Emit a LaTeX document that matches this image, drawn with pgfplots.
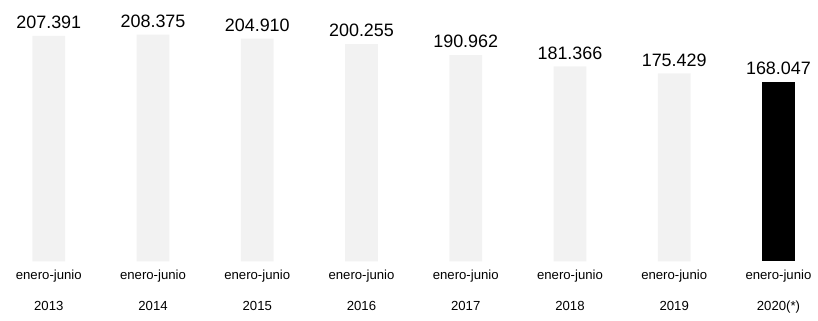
\documentclass[border=0pt]{standalone}
\usepackage{pgfplots}
\pgfplotsset{compat=1.18}
\usepackage{fontspec}
\setmainfont{Liberation Sans}
\begin{document}
\begin{tikzpicture}
\begin{axis}[
  scale only axis, width=409pt, height=131pt,
  xmin=-0.468, xmax=7.354, ymin=15, ymax=237.8,
  axis line style={draw=none},
  ytick=\empty,
  xtick={0,1,2,3,4,5,6,7},
  xticklabels={enero-junio\\2013,enero-junio\\2014,enero-junio\\2015,enero-junio\\2016,enero-junio\\2017,enero-junio\\2018,enero-junio\\2019,enero-junio\\2020(*)},
  xticklabel style={align=center, font=\fontsize{6.6}{15.5}\selectfont, yshift=-1pt},
  major tick length=0pt,
  ybar, bar width=16.5pt, bar shift=0pt,
  nodes near coords,
  nodes near coords style={font=\fontsize{9}{10}\selectfont, /pgf/number format/.cd, fixed, fixed zerofill, precision=3, assume math mode=true},
  clip=false,
]
\addplot[fill=black!5, draw=none] coordinates {(0,207.391) (1,208.375) (2,204.910) (3,200.255) (4,190.962) (5,181.366) (6,175.429)};
\addplot[fill=black, draw=none] coordinates {(7,168.047)};
\end{axis}
\end{tikzpicture}
\end{document}
